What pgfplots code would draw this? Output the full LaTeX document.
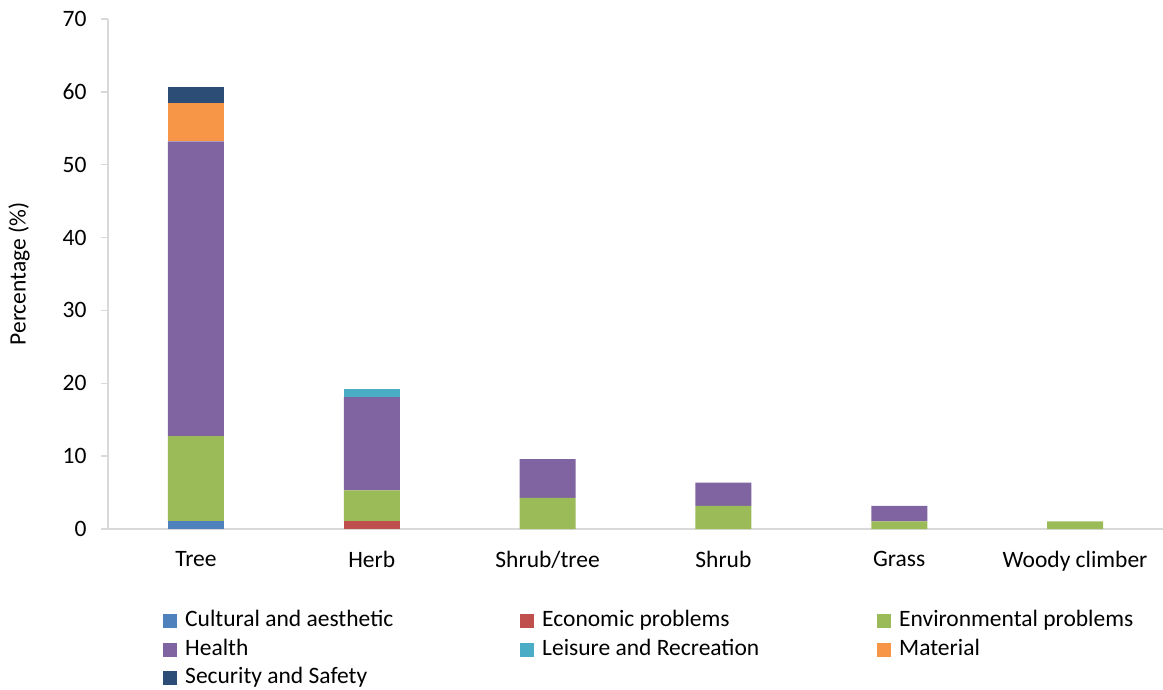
\documentclass[border=0pt]{standalone}
\usepackage{pgfplots}
\pgfplotsset{compat=1.18}
\usepackage{pgfplotstable}
\usepackage{fontspec}
\setmainfont{Carlito}
\definecolor{cCult}{HTML}{4F81BD}
\definecolor{cEcon}{HTML}{C0504D}
\definecolor{cEnv}{HTML}{9BBB59}
\definecolor{cHealth}{HTML}{8064A2}
\definecolor{cLeis}{HTML}{4BACC6}
\definecolor{cMat}{HTML}{F79646}
\definecolor{cSec}{HTML}{2C4D75}
\definecolor{axgray}{HTML}{D9D9D9}
\pgfplotstableread{
x cult econ env health leis mat sec
0 1.06 0 11.70 40.43 0 5.32 2.13
1 0 1.06 4.26 12.77 1.06 0 0
2 0 0 4.26 5.32 0 0 0
3 0 0 3.19 3.19 0 0 0
4 0 0 1.06 2.13 0 0 0
5 0 0 1.06 0 0 0 0
}\data
\newcommand{\legent}[1]{\makebox[335pt][l]{#1}}
\begin{document}
\begin{tikzpicture}[font=\fontsize{23.5}{28}\selectfont]
\begin{axis}[
  ybar stacked, bar width=56pt,
  scale only axis, width=1055pt, height=510pt,
  xmin=-0.5, xmax=5.5, ymin=0, ymax=70,
  xtick={0,1,2,3,4,5},
  xticklabels={Tree,Herb,Shrub/tree,Shrub,Grass,Woody climber},
  ytick={0,10,20,30,40,50,60,70},
  axis x line*=bottom, axis y line*=left,
  axis line style={draw=axgray, line width=1.5pt, -},
  tick align=outside, major tick length=7pt,
  ytick style={draw=axgray, line width=1.5pt},
  xtick style={draw=none},
  xticklabel style={yshift=-12pt},
  yticklabel style={xshift=-11pt},
  /pgf/number format/assume math mode=true,
  ylabel={Percentage (\%)},
  ylabel style={at={(axis description cs:-0.0843,0.5)}, anchor=center},
  clip=false,
  legend columns=3,
  legend cell align=left,
  legend style={draw=none, fill=none, at={(axis description cs:0.0493,-0.1539)}, anchor=north west,
    nodes={inner sep=0pt, text height=17pt, text depth=6pt},
    row sep=5.5pt,
    /tikz/every odd column/.append style={column sep=8pt}},
  legend image code/.code={\fill[#1] (0pt,-7pt) rectangle (14pt,7pt);},
  every axis plot/.append style={draw=none},
]
\addplot[fill=cCult] table[x=x,y=cult]{\data};
\addplot[fill=cEcon] table[x=x,y=econ]{\data};
\addplot[fill=cEnv] table[x=x,y=env]{\data};
\addplot[fill=cHealth] table[x=x,y=health]{\data};
\addplot[fill=cLeis] table[x=x,y=leis]{\data};
\addplot[fill=cMat] table[x=x,y=mat]{\data};
\addplot[fill=cSec] table[x=x,y=sec]{\data};
\legend{\legent{Cultural and aesthetic},\legent{Economic problems},\legent{Environmental problems},\legent{Health},\legent{Leisure and Recreation},\legent{Material},\legent{Security and Safety}}
\coordinate (bl) at (rel axis cs:0,0);
\coordinate (tr) at (rel axis cs:1,1);
\end{axis}
\pgfresetboundingbox
\path[use as bounding box] ([xshift=-108pt,yshift=-160pt]bl) rectangle ([yshift=19pt]tr);
\end{tikzpicture}
\end{document}
